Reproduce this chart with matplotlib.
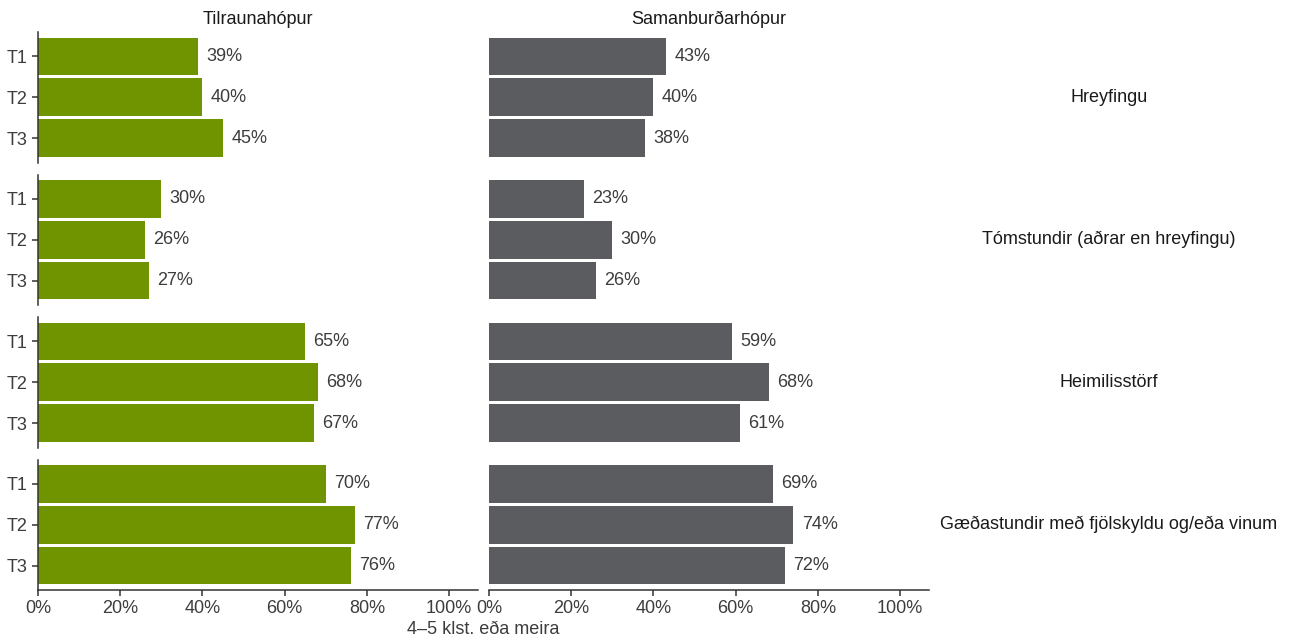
import matplotlib
matplotlib.use("Agg")
import matplotlib.pyplot as plt

plt.rcParams["font.family"] = ["Liberation Sans", "DejaVu Sans"]

# data
groups = ["Tilraunahópur", "Samanburðarhópur"]
categories = ["Hreyfingu", "Tómstundir (aðrar en hreyfingu)",
              "Heimilisstörf", "Gæðastundir með fjölskyldu og/eða vinum"]
times = ["T1", "T2", "T3"]
tilrauna = [[39, 40, 45], [30, 26, 27], [65, 68, 67], [70, 77, 76]]
samanburdar = [[43, 40, 38], [23, 30, 26], [59, 68, 61], [69, 74, 72]]
xticks = [0, 20, 40, 60, 80, 100]
xlabel = "4\u20135 klst. eða meira"

values = [tilrauna, samanburdar]
colors = ["#709300", "#5b5c60"]
text_col = "#3d3d3d"
axis_col = "#333333"
fs = 13

W, H = 1291, 643
fig, axes = plt.subplots(4, 2, figsize=(W / 100, H / 100), dpi=100)
fig.subplots_adjust(left=38 / W, right=929 / W, top=1 - 32 / H, bottom=1 - 590 / H,
                    wspace=11 / 440, hspace=12 / 130.5)

ypos = [1, 2, 3]
for r, cat in enumerate(categories):
    for c in range(2):
        ax = axes[r, c]
        vals = values[c][r]
        ax.barh(ypos, vals, height=0.92, color=colors[c])
        for y, v in zip(ypos, vals):
            ax.annotate(f"{v}%", (v, y), xytext=(6, 0), textcoords="offset points",
                        va="center", ha="left", fontsize=fs, color=text_col)
        ax.set_xlim(0, 107)
        ax.set_ylim(3.6, 0.4)
        for s in ("top", "right"):
            ax.spines[s].set_visible(False)
        ax.spines["left"].set_color(axis_col)
        ax.spines["bottom"].set_color(axis_col)
        ax.spines["left"].set_linewidth(1.1)
        ax.spines["bottom"].set_linewidth(1.1)
        ax.tick_params(colors=axis_col, labelcolor=text_col, labelsize=fs,
                       length=4, width=1.1)
        if c == 0:
            ax.set_yticks(ypos)
            ax.set_yticklabels(times)
        else:
            ax.spines["left"].set_visible(False)
            ax.set_yticks([])
        ax.set_xticks(xticks)
        if r == 3:
            ax.set_xticklabels([f"{t}%" for t in xticks])
        else:
            ax.spines["bottom"].set_visible(False)
            ax.tick_params(axis="x", length=0, labelbottom=False)
        if r == 0:
            ax.set_title(groups[c], fontsize=fs, color="#1a1a1a", pad=6)
    # row strip label on the right
    bb = axes[r, 1].get_position()
    fig.text(1109 / W, (bb.y0 + bb.y1) / 2, cat, ha="center", va="center",
             fontsize=fs, color="#1a1a1a")

fig.text((38 + 929) / 2 / W, 1 - 630 / H, xlabel, ha="center", va="center",
         fontsize=fs, color=text_col)

fig.savefig("out.png", dpi=100, facecolor="white")
